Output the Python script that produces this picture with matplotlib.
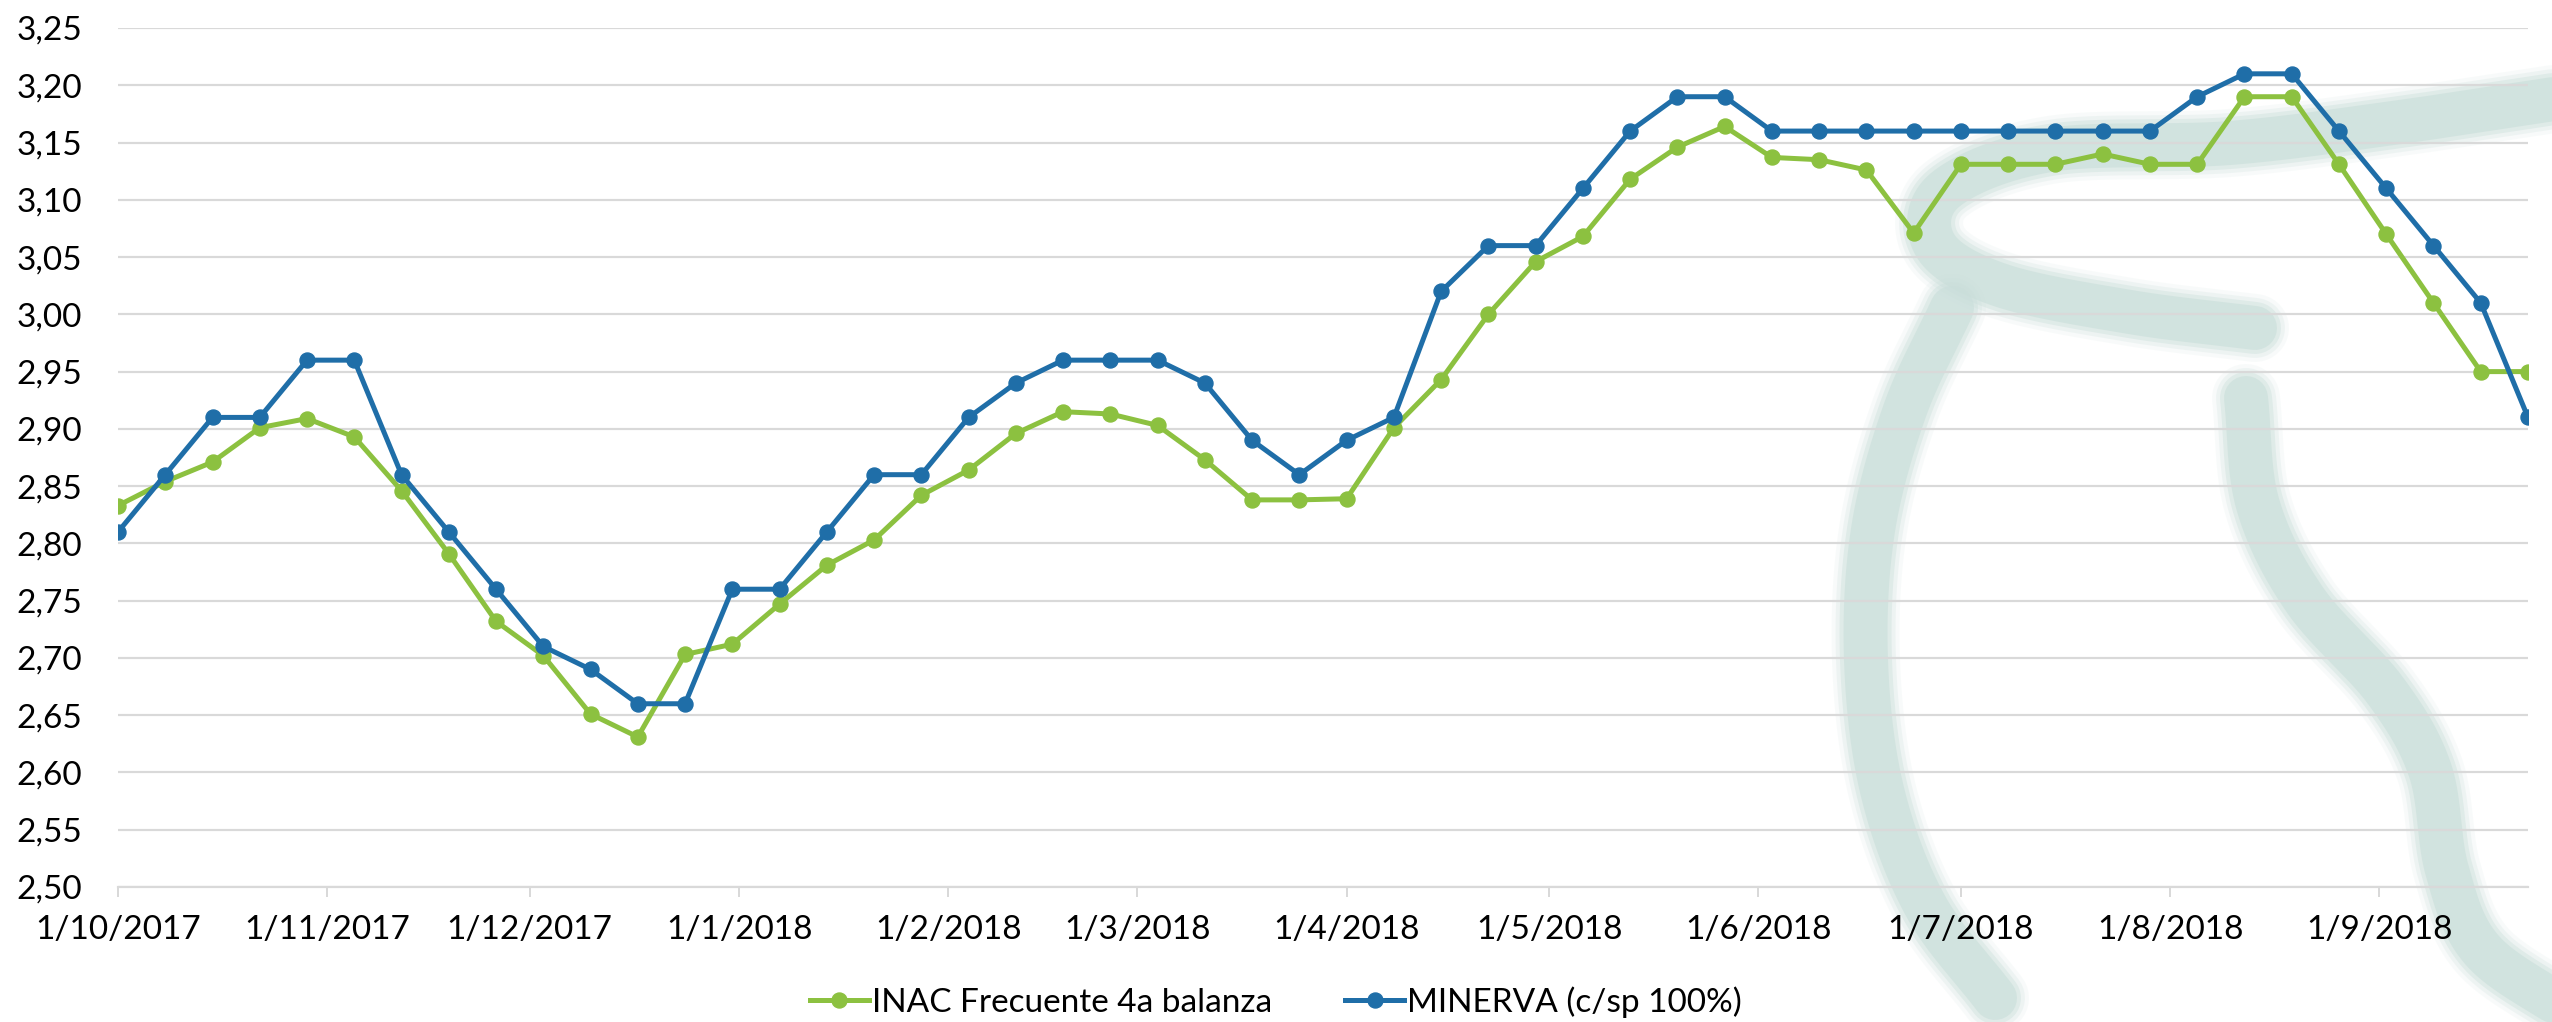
import matplotlib
matplotlib.use("Agg")
import matplotlib.pyplot as plt
import matplotlib.dates as mdates
from matplotlib.path import Path
from matplotlib.patches import PathPatch
from matplotlib.ticker import FuncFormatter, MultipleLocator
import numpy as np
import pandas as pd

# ---------------- data ----------------
dates = ["2017-10-01", "2017-10-08", "2017-10-15", "2017-10-22", "2017-10-29",
         "2017-11-05", "2017-11-12", "2017-11-19", "2017-11-26", "2017-12-03",
         "2017-12-10", "2017-12-17", "2017-12-24", "2017-12-31", "2018-01-07",
         "2018-01-14", "2018-01-21", "2018-01-28", "2018-02-04", "2018-02-11",
         "2018-02-18", "2018-02-25", "2018-03-04", "2018-03-11", "2018-03-18",
         "2018-03-25", "2018-04-01", "2018-04-08", "2018-04-15", "2018-04-22",
         "2018-04-29", "2018-05-06", "2018-05-13", "2018-05-20", "2018-05-27",
         "2018-06-03", "2018-06-10", "2018-06-17", "2018-06-24", "2018-07-01",
         "2018-07-08", "2018-07-15", "2018-07-22", "2018-07-29", "2018-08-05",
         "2018-08-12", "2018-08-19", "2018-08-26", "2018-09-02", "2018-09-09",
         "2018-09-16", "2018-09-23"]

inac = [2.833, 2.854, 2.871, 2.901, 2.909, 2.893, 2.846, 2.791, 2.732, 2.702,
        2.651, 2.631, 2.703, 2.712, 2.747, 2.781, 2.803, 2.842, 2.864, 2.896,
        2.915, 2.913, 2.903, 2.873, 2.838, 2.838, 2.839, 2.901, 2.943, 3.000,
        3.046, 3.068, 3.118, 3.146, 3.164, 3.137, 3.135, 3.126, 3.071, 3.131,
        3.131, 3.131, 3.140, 3.131, 3.131, 3.190, 3.190, 3.131, 3.070, 3.010,
        2.950, 2.950]

minerva = [2.81, 2.86, 2.91, 2.91, 2.96, 2.96, 2.86, 2.81, 2.76, 2.71,
           2.69, 2.66, 2.66, 2.76, 2.76, 2.81, 2.86, 2.86, 2.91, 2.94,
           2.96, 2.96, 2.96, 2.94, 2.89, 2.86, 2.89, 2.91, 3.02, 3.06,
           3.06, 3.11, 3.16, 3.19, 3.19, 3.16, 3.16, 3.16, 3.16, 3.16,
           3.16, 3.16, 3.16, 3.16, 3.19, 3.21, 3.21, 3.16, 3.11, 3.06,
           3.01, 2.91]

series_labels = ["INAC Frecuente 4a balanza", "MINERVA (c/sp 100%)"]
series_colors = ["#8CC140", "#1F6EA8"]

# ---------------- figure ----------------
plt.rcParams['font.family'] = ['Lato', 'DejaVu Sans']
W, H, DPI = 2552, 1022, 100
PT = 72 / DPI
fig = plt.figure(figsize=(W / DPI, H / DPI), dpi=DPI)
fig.patch.set_facecolor("white")

L, R, T, B = 118, 2528, 28, 887
ax = fig.add_axes([L / W, 1 - B / H, (R - L) / W, (B - T) / H])
ax.patch.set_visible(False)

# ---- decorative watermark (background logo) in figure pixel coords ----
def catmull(points, n=40):
    P = np.array(points, dtype=float)
    P = np.vstack([P[0] - (P[1] - P[0]), P, P[-1] + (P[-1] - P[-2])])
    out = []
    for i in range(1, len(P) - 2):
        p0, p1, p2, p3 = P[i - 1], P[i], P[i + 1], P[i + 2]
        t = np.linspace(0, 1, n, endpoint=False)[:, None]
        c = 0.5 * ((2 * p1) + (-p0 + p2) * t + (2 * p0 - 5 * p1 + 4 * p2 - p3) * t ** 2
                   + (-p0 + 3 * p1 - 3 * p2 + p3) * t ** 3)
        out.append(c)
    out.append(P[-2][None, :])
    return np.vstack(out)

bands = [
    [(2580, 95), (2400, 122), (2230, 143), (2050, 150), (1945, 190),
     (1935, 245), (2000, 285), (2130, 312), (2255, 328)],
    [(1952, 308), (1905, 410), (1873, 530), (1866, 660), (1882, 790),
     (1925, 905), (1995, 998)],
    [(2246, 398), (2258, 505), (2305, 600), (2385, 690), (2430, 770),
     (2447, 870), (2482, 950), (2570, 1012)],
]
wm_color = "#C9DEDA"
for pts in bands:
    xy = catmull(pts)
    xy[:, 1] = H - xy[:, 1]
    for lw, a in [(68, 0.12), (60, 0.22), (52, 0.38), (44, 0.6)]:
        patch = PathPatch(Path(xy), fill=False, edgecolor=wm_color, alpha=a,
                          linewidth=lw * PT, capstyle="round",
                          joinstyle="round", transform=None, zorder=-5)
        fig.add_artist(patch)

# ---------------- data lines ----------------
x = pd.to_datetime(dates)
for vals, lab, col in zip([inac, minerva], series_labels, series_colors):
    ax.plot(x, vals, color=col, lw=5 * PT, marker="o",
            markersize=15 * PT, label=lab, zorder=3,
            solid_joinstyle="round")

ax.set_ylim(2.50, 3.25)
ax.set_xlim(x[0], x[-1])
ax.yaxis.set_major_locator(MultipleLocator(0.05))
ax.yaxis.set_major_formatter(FuncFormatter(lambda v, p: f"{v:.2f}".replace(".", ",")))
ax.xaxis.set_major_locator(mdates.MonthLocator(bymonthday=1))
ax.xaxis.set_major_formatter(FuncFormatter(
    lambda v, p: (lambda d: f"{d.day}/{d.month}/{d.year}")(mdates.num2date(v))))

ax.grid(axis="y", color="#D9D9D9", lw=2.2 * PT, zorder=0)
ax.set_axisbelow(True)
for s in ["top", "right", "left"]:
    ax.spines[s].set_visible(False)
ax.spines["bottom"].set_color("#D9D9D9")
ax.spines["bottom"].set_linewidth(2.2 * PT)

ax.tick_params(axis="y", length=0, pad=36 * PT, labelsize=24, labelcolor="#000000")
ax.tick_params(axis="x", length=10 * PT, width=2 * PT, color="#D9D9D9",
               pad=18 * PT, labelsize=24, labelcolor="#000000")

leg = fig.legend(loc="center", bbox_to_anchor=(0.5, 1 - 1002 / H), ncol=2,
                 frameon=False, fontsize=24, handlelength=1.75, handletextpad=0.1,
                 columnspacing=2.2, borderaxespad=0)

fig.savefig("out.png", dpi=DPI, facecolor="white")
